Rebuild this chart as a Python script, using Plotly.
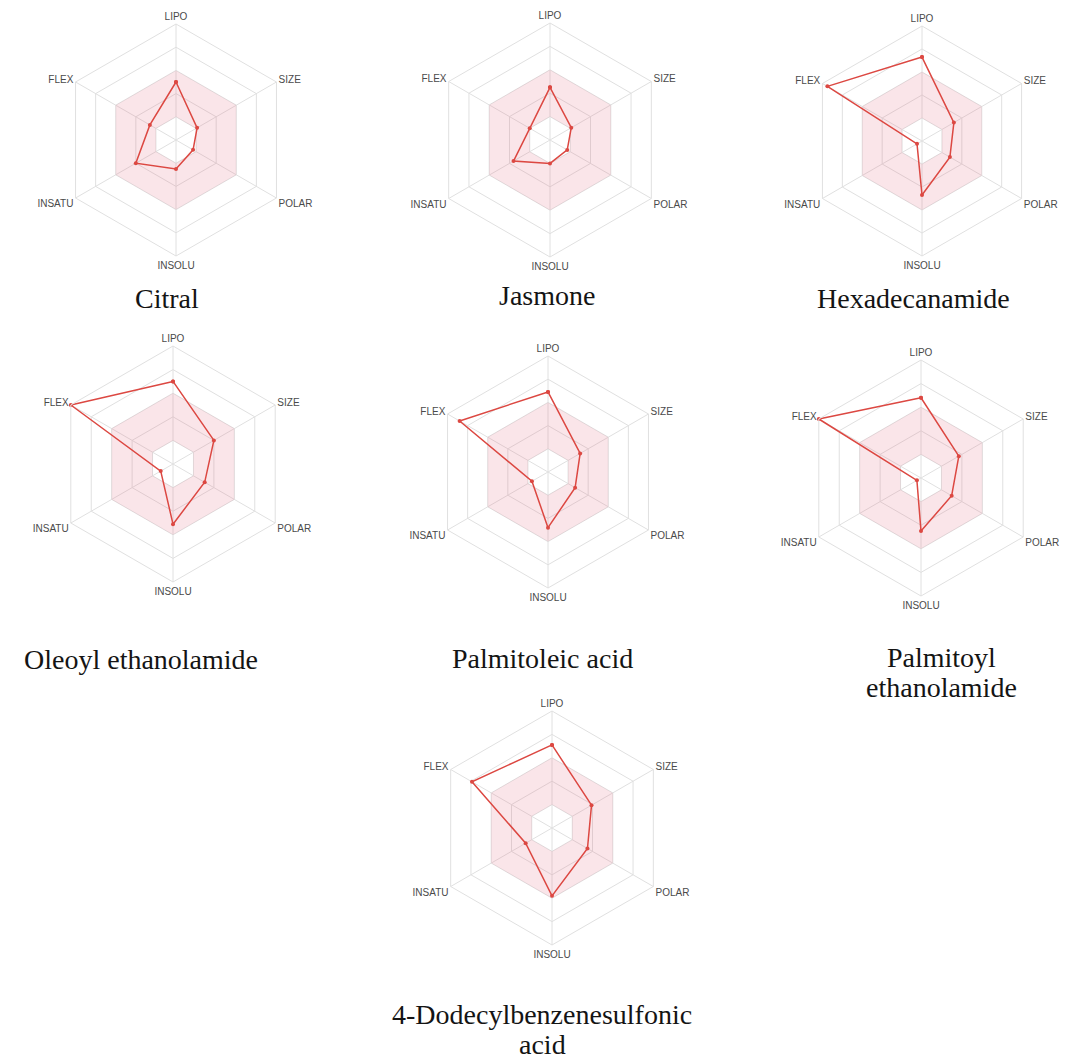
import plotly.graph_objects as go

W, H = 1073, 1062

# Bioavailability radar axes (clockwise from the top)
categories = ["LIPO", "SIZE", "POLAR", "INSOLU", "INSATU", "FLEX"]

compounds = [
    "Citral",
    "Jasmone",
    "Hexadecanamide",
    "Oleoyl ethanolamide",
    "Palmitoleic acid",
    "Palmitoyl<br>ethanolamide",
    "4-Dodecylbenzenesulfonic<br>acid",
]

# Normalised property scores (0 = centre, 1 = outer hexagon)
citral = [0.50, 0.21, 0.17, 0.25, 0.40, 0.26]
jasmone = [0.45, 0.21, 0.17, 0.20, 0.36, 0.20]
hexadecanamide = [0.73, 0.32, 0.28, 0.47, 0.05, 0.95]
oleoyl_ethanolamide = [0.70, 0.40, 0.31, 0.51, 0.12, 1.00]
palmitoleic_acid = [0.69, 0.32, 0.27, 0.48, 0.16, 0.88]
palmitoyl_ethanolamide = [0.68, 0.37, 0.30, 0.45, 0.04, 1.00]
dodecylbenzenesulfonic_acid = [0.71, 0.39, 0.35, 0.58, 0.26, 0.79]

scores = [citral, jasmone, hexadecanamide, oleoyl_ethanolamide,
          palmitoleic_acid, palmitoyl_ethanolamide, dodecylbenzenesulfonic_acid]

# Optimal property band
BAND_LOW, BAND_HIGH = 0.2, 0.6

# Panel placement: centre x, centre y, outer radius (pixels)
panels = [
    (176, 140, 116),
    (550, 140, 117),
    (922, 141, 115),
    (173, 464, 118),
    (548, 472, 116),
    (921, 478, 118),
    (552, 828, 117),
]
# Caption placement: centre x, centre y of first line (pixels)
captions = [
    (167, 299),
    (547, 295),
    (913, 299),
    (141, 659),
    (542, 658),
    (941, 657),
    (542, 1014),
]
LINE_GAP = 30

GRID = "#e0e0e0"
RED = "rgb(220,72,66)"
PINK = "rgba(225,110,135,0.18)"

fig = go.Figure()
layout = {}
annotations = []

outer_theta = categories + [categories[0]]
inner_theta = [categories[0]] + categories[:0:-1] + [categories[0]]
band_theta = outer_theta + inner_theta + [categories[0]]
band_r = [BAND_HIGH] * len(outer_theta) + [BAND_LOW] * len(inner_theta) + [BAND_HIGH]

for i, (name, vals) in enumerate(zip(compounds, scores)):
    key = "polar" if i == 0 else f"polar{i + 1}"
    cx, cy, R = panels[i]

    fig.add_trace(go.Scatterpolar(
        r=band_r, theta=band_theta, mode="lines", fill="toself",
        fillcolor=PINK, line=dict(width=0, color="rgba(0,0,0,0)"),
        hoverinfo="skip", showlegend=False, subplot=key,
    ))
    fig.add_trace(go.Scatterpolar(
        r=vals + [vals[0]], theta=categories + [categories[0]],
        mode="lines+markers", line=dict(color=RED, width=1.5),
        marker=dict(color=RED, size=4), cliponaxis=False,
        name=name.replace("<br>", " "), showlegend=False, subplot=key,
    ))

    layout[key] = dict(
        domain=dict(x=[(cx - R) / W, (cx + R) / W],
                    y=[1 - (cy + R) / H, 1 - (cy - R) / H]),
        gridshape="linear",
        bgcolor="white",
        radialaxis=dict(range=[0, 1], tickvals=[0.2, 0.4, 0.6, 0.8],
                        showticklabels=False, showline=False, ticks="",
                        gridcolor=GRID, gridwidth=1),
        angularaxis=dict(direction="clockwise", rotation=90,
                         categoryorder="array", categoryarray=categories,
                         tickfont=dict(family="Liberation Sans, Arial, sans-serif",
                                       size=10, color="#4a4a4a"),
                         gridcolor=GRID, linecolor=GRID, showline=True,
                         ticks=""),
    )

    tx, ty = captions[i]
    for j, line in enumerate(name.split("<br>")):
        annotations.append(dict(
            text=line, x=tx / W, y=1 - (ty + j * LINE_GAP) / H,
            xref="paper", yref="paper", xanchor="center", yanchor="middle",
            showarrow=False,
            font=dict(family="Liberation Serif, Times New Roman, serif",
                      size=28, color="#141414"),
        ))

fig.update_layout(
    width=W, height=H,
    margin=dict(l=0, r=0, t=0, b=0),
    paper_bgcolor="white",
    showlegend=False,
    annotations=annotations,
    **layout,
)

fig.write_html("out.html")
